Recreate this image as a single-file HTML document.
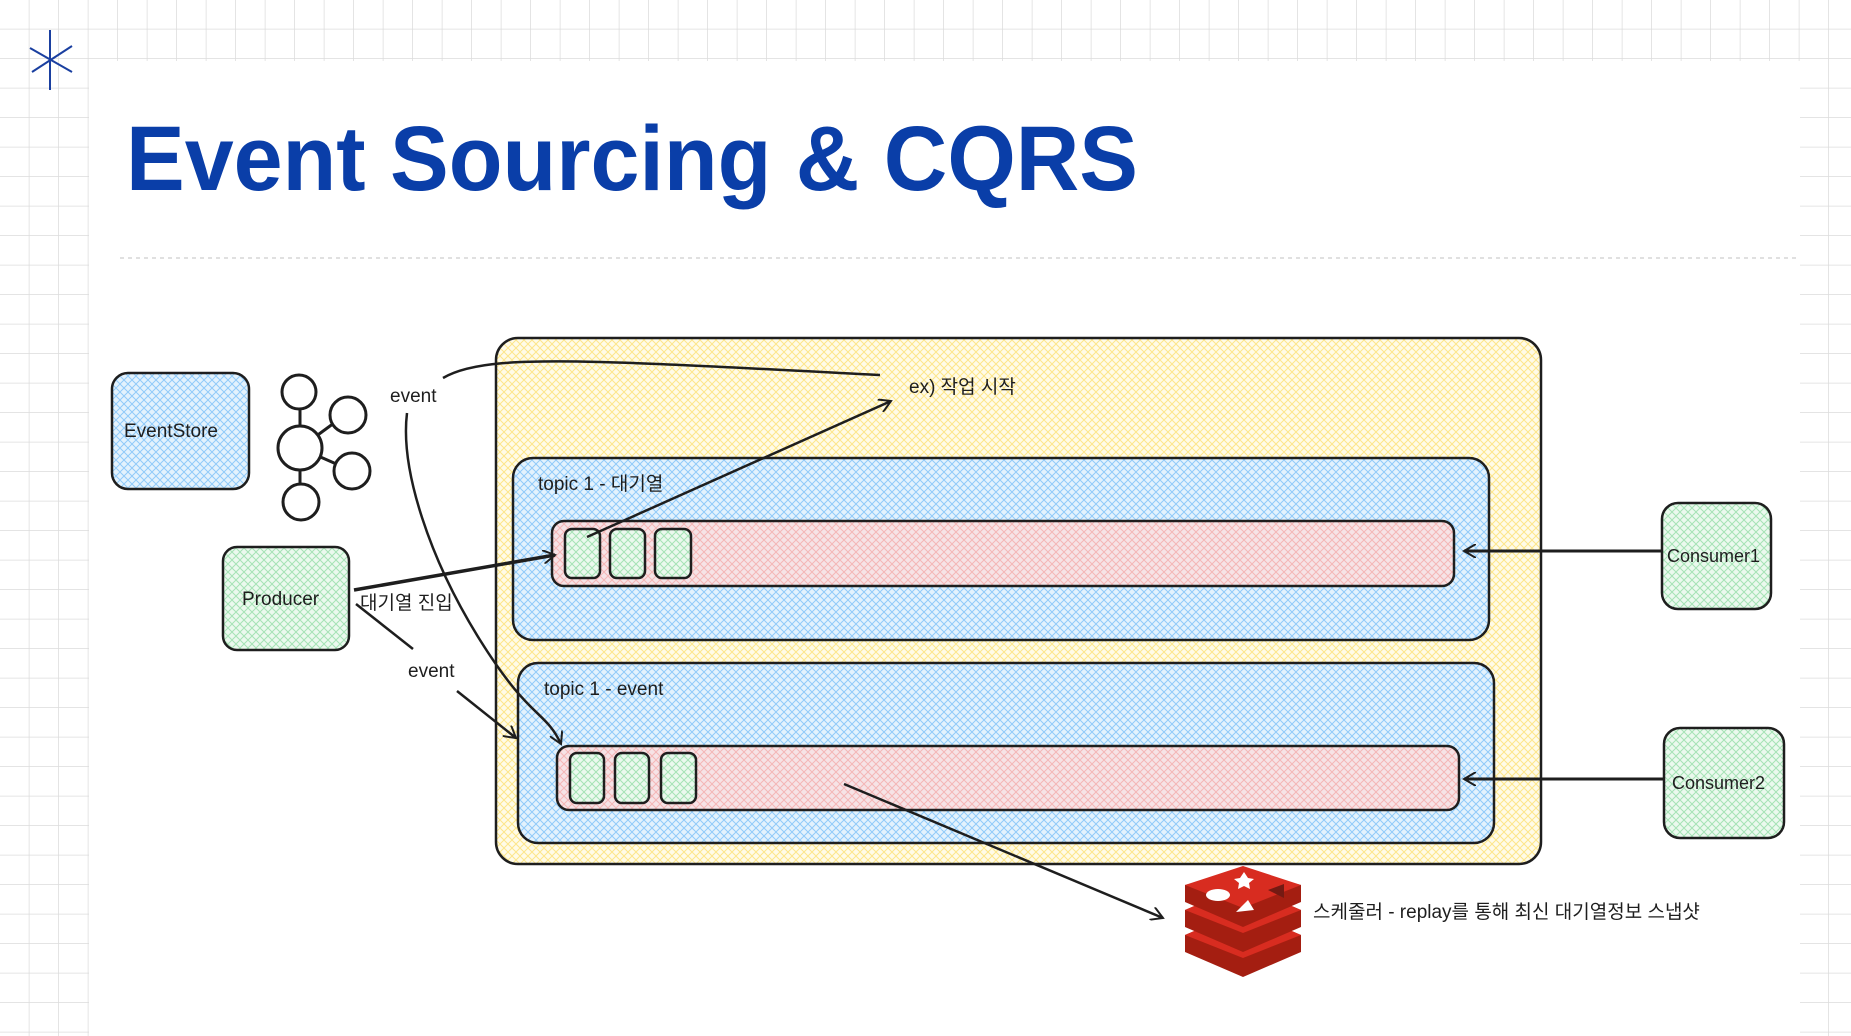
<!DOCTYPE html>
<html><head><meta charset="utf-8"><style>
html,body{margin:0;padding:0;background:#fff;}
svg{display:block;}
text{font-family:"Liberation Sans","Noto Sans CJK KR",sans-serif;fill:#1e1e1e;}
</style></head><body>
<svg width="1851" height="1036" viewBox="0 0 1851 1036" xmlns="http://www.w3.org/2000/svg">
<defs>
<pattern id="grid" width="29.5" height="29.5" patternUnits="userSpaceOnUse">
<path d="M29.5 0V29.5M0 29.5H29.5" stroke="#dcdcdc" stroke-width="1.5" fill="none"/>
</pattern>
<pattern id="hy" width="8" height="8" patternUnits="userSpaceOnUse">
<rect width="8" height="8" fill="#fffbe8"/>
<path d="M0 8L8 0M0 0L8 8" stroke="#fde68a" stroke-width="1"/>
</pattern>
<pattern id="hb" width="8" height="8" patternUnits="userSpaceOnUse">
<rect width="8" height="8" fill="#e3f2fd"/>
<path d="M0 8L8 0M0 0L8 8" stroke="#90caf9" stroke-width="1"/>
</pattern>
<pattern id="hr" width="8" height="8" patternUnits="userSpaceOnUse">
<rect width="8" height="8" fill="#f6e3e6"/>
<path d="M0 8L8 0M0 0L8 8" stroke="#f4b6b6" stroke-width="1"/>
</pattern>
<pattern id="hg" width="8" height="8" patternUnits="userSpaceOnUse">
<rect width="8" height="8" fill="#ebf9ee"/>
<path d="M0 8L8 0M0 0L8 8" stroke="#a5e3b5" stroke-width="1"/>
</pattern>
<marker id="ar" markerWidth="14" markerHeight="14" refX="12" refY="7" orient="auto" markerUnits="userSpaceOnUse">
<path d="M0 0L12 7L0 14" fill="none" stroke="#1e1e1e" stroke-width="2"/>
</marker>
</defs>
<rect width="1851" height="1036" fill="url(#grid)"/>
<rect x="89" y="61" width="1711" height="975" fill="#fff"/>
<line x1="120" y1="258" x2="1800" y2="258" stroke="#e0e0e0" stroke-width="2" stroke-dasharray="4 4"/>
<g stroke="#1a3fa0" stroke-width="2">
<line x1="50" y1="30" x2="50" y2="90"/><line x1="30" y1="48" x2="72" y2="72"/><line x1="32" y1="72" x2="72" y2="46"/>
</g>
<text x="126" y="190" textLength="1012" lengthAdjust="spacingAndGlyphs" style="font-size:92px;font-weight:bold;fill:#0a3ea8">Event Sourcing &amp; CQRS</text>

<rect x="496" y="338" width="1045" height="526" rx="22" fill="url(#hy)" stroke="#1e1e1e" stroke-width="2.5"/>
<rect x="513" y="458" width="976" height="182" rx="20" fill="url(#hb)" stroke="#1e1e1e" stroke-width="2.5"/>
<rect x="552" y="521" width="902" height="65" rx="12" fill="url(#hr)" stroke="#1e1e1e" stroke-width="2.5"/>
<rect x="518" y="663" width="976" height="180" rx="20" fill="url(#hb)" stroke="#1e1e1e" stroke-width="2.5"/>
<rect x="557" y="746" width="902" height="64" rx="12" fill="url(#hr)" stroke="#1e1e1e" stroke-width="2.5"/>
<g fill="url(#hg)" stroke="#1e1e1e" stroke-width="2.5">
<rect x="565" y="529" width="35" height="49" rx="7"/><rect x="610" y="529" width="35" height="49" rx="7"/><rect x="655" y="529" width="36" height="49" rx="7"/>
<rect x="570" y="753" width="34" height="50" rx="7"/><rect x="615" y="753" width="34" height="50" rx="7"/><rect x="661" y="753" width="35" height="50" rx="7"/>
</g>
<rect x="112" y="373" width="137" height="116" rx="16" fill="url(#hb)" stroke="#1e1e1e" stroke-width="2.5"/>
<rect x="223" y="547" width="126" height="103" rx="14" fill="url(#hg)" stroke="#1e1e1e" stroke-width="2.5"/>
<rect x="1662" y="503" width="109" height="106" rx="16" fill="url(#hg)" stroke="#1e1e1e" stroke-width="2.5"/>
<rect x="1664" y="728" width="120" height="110" rx="16" fill="url(#hg)" stroke="#1e1e1e" stroke-width="2.5"/>

<g fill="#fff" stroke="#1e1e1e" stroke-width="3">
<line x1="300" y1="395" x2="300" y2="500"/><line x1="300" y1="448" x2="345" y2="415"/><line x1="300" y1="448" x2="350" y2="470"/>
<circle cx="299" cy="392" r="17"/><circle cx="348" cy="415" r="18"/><circle cx="300" cy="448" r="22"/><circle cx="352" cy="471" r="18"/><circle cx="301" cy="502" r="18"/>
</g>

<g fill="none" stroke="#1e1e1e" stroke-width="2.5">
<path d="M443 378 C470 362,520 360,600 362 S820 372,880 375"/>
<line x1="587" y1="537" x2="891" y2="401" marker-end="url(#ar)"/>
<line x1="354" y1="590" x2="555" y2="555" stroke-width="3.5" marker-end="url(#ar)"/>
<line x1="356" y1="604" x2="413" y2="649"/>
<line x1="457" y1="691" x2="516" y2="738" marker-end="url(#ar)"/>
<path d="M407 413 C400 470,430 560,480 640 S545 710,561 744" marker-end="url(#ar)"/>
<line x1="1662" y1="551" x2="1464" y2="551" stroke-width="3" marker-end="url(#ar)"/>
<line x1="1664" y1="779" x2="1464" y2="779" stroke-width="3" marker-end="url(#ar)"/>
<line x1="844" y1="784" x2="1163" y2="918" marker-end="url(#ar)"/>
</g>

<g>
<path d="M1185 935 L1243 910 L1301 935 L1301 952 L1243 977 L1185 952Z" fill="#a41e11"/>
<path d="M1185 935 L1243 910 L1301 935 L1243 958Z" fill="#d82c20"/>
<path d="M1185 910 L1243 885 L1301 910 L1301 927 L1243 952 L1185 927Z" fill="#a41e11"/>
<path d="M1185 910 L1243 885 L1301 910 L1243 933Z" fill="#d82c20"/>
<path d="M1185 885 L1243 870 L1301 885 L1301 902 L1243 927 L1185 902Z" fill="#a41e11"/>
<path d="M1185 885 L1243 866 L1301 885 L1243 908Z" fill="#d82c20"/>
<ellipse cx="1218" cy="895" rx="12" ry="6" fill="#fff"/>
<path d="M1240 878 l4 -6 l4 6 l6 1 l-5 4 l1 6 l-6 -3 l-6 3 l1 -6 l-5 -4z" fill="#fff"/>
<path d="M1236 912 l12 -12 l6 10z" fill="#fff"/>
<path d="M1268 890 l16 -6 v14z" fill="#741a13"/>
</g>

<g style="font-size:19px">
<text x="909" y="393">ex) 작업 시작</text>
<text x="390" y="402">event</text>
<text x="538" y="490">topic 1 - 대기열</text>
<text x="360" y="609">대기열 진입</text>
<text x="408" y="677">event</text>
<text x="544" y="695">topic 1 - event</text>
<text x="124" y="437">EventStore</text>
<text x="242" y="605">Producer</text>
<text x="1667" y="562" style="font-size:18px">Consumer1</text>
<text x="1672" y="789" style="font-size:18px">Consumer2</text>
<text x="1313" y="918">스케줄러 - replay를 통해 최신 대기열정보 스냅샷</text>
</g>
</svg>
</body></html>
